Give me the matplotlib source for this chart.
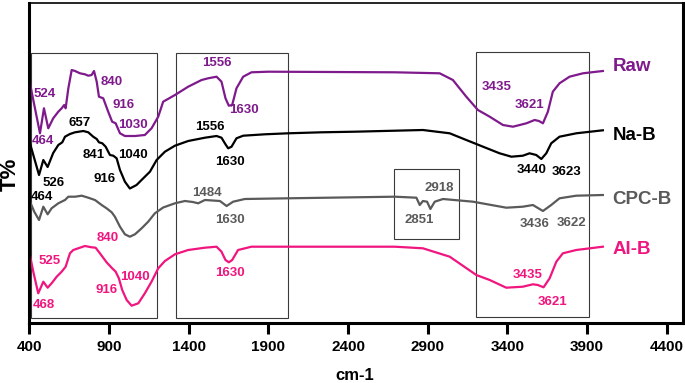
import matplotlib
matplotlib.use("Agg")
import matplotlib.pyplot as plt
from matplotlib.patches import Rectangle

plt.rcParams['font.family'] = ['Liberation Sans', 'DejaVu Sans']
plt.rcParams['font.weight'] = 'bold'

# ---------------- data (wavenumber cm-1, transmittance arbitrary units) ----------------
raw_x = [400, 467, 492, 519, 550, 582, 603, 619, 628, 645, 666, 687, 718, 749, 770, 791, 806,
         823, 837, 864, 895, 920, 942, 969, 1000, 1063, 1125, 1167, 1209, 1240, 1314, 1397,
         1481, 1522, 1575, 1606, 1631, 1652, 1673, 1700, 1742, 1794, 1899, 2693, 2975, 3058,
         3142, 3215, 3289, 3372, 3435, 3519, 3571, 3598, 3623, 3654, 3685, 3727, 3790, 3874, 3999]
raw_y = [243, 189.7, 214.7, 194.7, 204.7, 211.3, 214.7, 218, 214.7, 234.7, 253, 252, 249.7, 248.7,
         247.3, 248, 252, 241.3, 226.3, 224.7, 211.3, 201.3, 199.7, 189.7, 187, 187, 188, 194.7,
         206.3, 221.3, 228, 236.3, 243, 244.7, 246.3, 241.3, 224.7, 217.3, 218, 234.7, 246.3,
         250.7, 251.3, 250.7, 249.7, 243, 226.3, 213, 206.3, 198, 196.3, 199.7, 203, 202, 199.7,
         211.3, 231.3, 239.7, 246.3, 249.7, 252]

nab_x = [400, 461, 488, 515, 550, 582, 607, 624, 655, 687, 739, 770, 801, 823, 837, 858, 879,
         906, 927, 948, 969, 1000, 1031, 1073, 1115, 1157, 1199, 1251, 1314, 1397, 1502, 1575,
         1606, 1631, 1648, 1669, 1700, 1742, 1878, 2024, 2233, 2442, 2693, 2870, 3038, 3142,
         3247, 3351, 3425, 3497, 3539, 3581, 3613, 3644, 3675, 3727, 3832, 3999]
nab_y = [182, 148, 163, 156, 170, 178, 180.7, 186.3, 189, 190.7, 192, 190.7, 186.3, 184, 180.7,
         179.7, 176.3, 168, 167.3, 164.7, 153, 141.3, 134.5, 138, 144.7, 151.3, 163, 171.3,
         177.3, 182, 185.3, 187, 185.3, 178.7, 174.7, 176.3, 184.7, 187.3, 188.7, 189.7, 190.7,
         191.3, 192.3, 193, 189.7, 183, 176.3, 169.7, 166.3, 167.3, 169.7, 168, 164, 169.7,
         179.7, 186.3, 189.7, 192.7]

cpc_x = [400, 431, 461, 488, 515, 540, 582, 624, 645, 687, 729, 770, 812, 854, 885, 917, 937,
         969, 1000, 1031, 1063, 1105, 1146, 1188, 1240, 1314, 1376, 1426, 1460, 1502, 1596,
         1638, 1679, 1752, 2024, 2693, 2829, 2850, 2870, 2896, 2917, 2944, 2996, 3184, 3393,
         3497, 3560, 3623, 3675, 3727, 3832, 3999]
cpc_y = [123, 111.3, 103, 116.3, 108.7, 114.7, 119.7, 123, 126.3, 126.3, 127.3, 125.3, 123, 118,
         114.7, 110.7, 106.3, 96.3, 88.7, 86.3, 88.7, 94.7, 101.3, 109.7, 115.5, 119.7, 122,
         121, 119.7, 123, 122, 117, 121.3, 124, 124.7, 126.3, 125.3, 118, 122, 121.3, 114,
         121.3, 124, 121.3, 115.3, 116.3, 118, 112, 118, 124.7, 127.3, 128]

alb_x = [400, 425, 456, 488, 515, 540, 572, 603, 628, 655, 676, 718, 749, 791, 816, 843, 885,
         920, 942, 962, 983, 1011, 1042, 1084, 1125, 1167, 1209, 1251, 1314, 1397, 1502, 1575,
         1606, 1631, 1652, 1673, 1710, 1794, 2693, 2870, 3038, 3205, 3289, 3393, 3497, 3560,
         3591, 3627, 3665, 3707, 3748, 3832, 3999]
alb_y = [70.7, 51.3, 29.7, 41.3, 35.3, 39.7, 46.3, 51.3, 56.3, 69.7, 73, 75.3, 77, 75.7, 75.3,
         69.7, 60.7, 54.7, 51.3, 44.7, 33, 23, 17.3, 19.7, 29.7, 41.3, 54.7, 62, 68.7, 73, 75.3,
         76.3, 71.3, 63, 60.7, 63, 73, 76.3, 76.3, 74.7, 66.3, 48, 43, 35.3, 36.3, 38.7, 38, 35.7,
         44.7, 61.3, 69.7, 73, 76.3]

series_names = ["Raw", "Na-B", "CPC-B", "Al-B"]
series_colors = ["#7F1A8C", "#000000", "#5A5A5A", "#F0157F"]

# peak labels: (text, x, y)
raw_labels = [("524", 498, 228.7), ("464", 488, 182), ("840", 920, 240.7), ("916", 994, 218),
              ("1030", 1052, 198), ("1556", 1575, 259.7), ("1630", 1748, 213),
              ("3435", 3331, 236.3), ("3621", 3540, 218)]
nab_labels = [("657", 718, 199.7), ("841", 801, 168), ("1040", 1052, 168), ("916", 870, 144),
              ("526", 555, 140.3), ("464", 478, 126.3), ("1556", 1533, 196.3),
              ("1630", 1658, 161.3), ("3440", 3550, 153), ("3623", 3770, 151.3)]
cpc_labels = [("1484", 1512, 129.7), ("1630", 1658, 103), ("2918", 2975, 134.7),
              ("2851", 2845, 103), ("3436", 3571, 98.7), ("3622", 3801, 99.7)]
alb_labels = [("525", 530, 62), ("468", 488, 18), ("840", 895, 84.7), ("916", 885, 33),
              ("1040", 1063, 46.3), ("1630", 1658, 49.7), ("3435", 3529, 48), ("3621", 3685, 21.3)]

# highlighted regions: (x0, x1, y0, y1)
regions = [(409, 1202, 4.7, 270.3), (1318, 2024, 4.7, 270.3),
           (2688, 3096, 84, 154), (3205, 3911, 5.7, 271.3)]

xticks = [400, 900, 1400, 1900, 2400, 2900, 3400, 3900, 4400]

# ---------------- plot ----------------
fig = plt.figure(figsize=(6.85, 3.83), dpi=100)
ax = fig.add_axes([29.3 / 685, 60 / 383, (682.7 - 29.3) / 685, 320 / 383])

all_x = [raw_x, nab_x, cpc_x, alb_x]
all_y = [raw_y, nab_y, cpc_y, alb_y]
all_labels = [raw_labels, nab_labels, cpc_labels, alb_labels]
label_pos_y = [256.3, 188, 123.7, 73]

for xs, ys, col, name, labs, ly in zip(all_x, all_y, series_colors, series_names,
                                       all_labels, label_pos_y):
    ax.plot(xs, ys, color=col, lw=1.6, solid_joinstyle='round')
    ax.text(4060, ly, name, color=col, fontsize=13.5, fontweight='bold',
            ha='left', va='center')
    for t, x, y in labs:
        ax.text(x, y, t, color=col, fontsize=9.5, fontweight='bold', ha='center', va='center')

for x0, x1, y0, y1 in regions:
    ax.add_patch(Rectangle((x0, y0), x1 - x0, y1 - y0, fill=False,
                           edgecolor='#3a3a3a', lw=0.8))

ax.set_xlim(400, 4500)
ax.set_ylim(0, 320)
ax.set_xticks(xticks)
ax.set_xticklabels([str(v) for v in xticks], fontsize=11, fontweight='bold')
ax.set_yticks([])
ax.tick_params(axis='x', direction='out', length=8, width=2.2, pad=4)
for s in ['left', 'bottom', 'right']:
    ax.spines[s].set_linewidth(2.2)
ax.spines['top'].set_linewidth(1.2)

ax.set_xlabel('cm-1', fontsize=12, fontweight='bold')
ax.xaxis.label.set_va('center')
ax.xaxis.set_label_coords(0.4985, -0.1656)
ax.set_ylabel('T%', fontsize=16, fontweight='bold')
ax.yaxis.label.set_va('center')
ax.yaxis.set_label_coords(-0.0295, 0.466)

fig.savefig('out.png', dpi=100)
